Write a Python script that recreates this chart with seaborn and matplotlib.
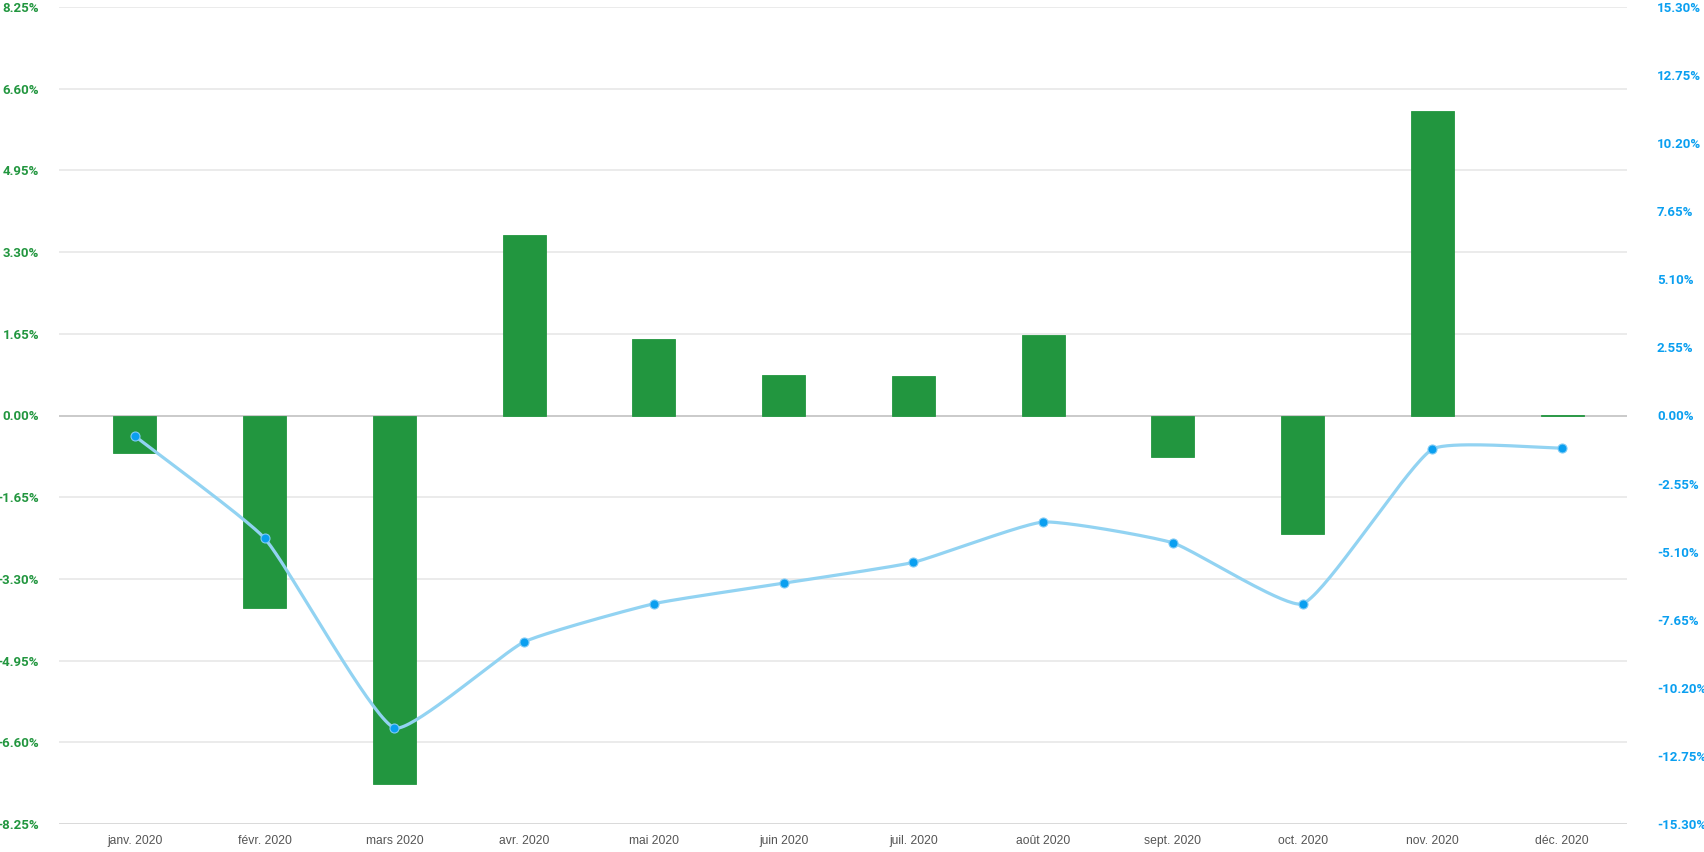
import numpy as np
import pandas as pd
import matplotlib
matplotlib.use("Agg")
import matplotlib.pyplot as plt
import seaborn as sns

months = ['janv. 2020', 'févr. 2020', 'mars 2020', 'avr. 2020', 'mai 2020', 'juin 2020',
          'juil. 2020', 'août 2020', 'sept. 2020', 'oct. 2020', 'nov. 2020', 'déc. 2020']
monthly = [-0.75, -3.89, -7.45, 3.65, 1.54, 0.81, 0.79, 1.63, -0.84, -2.40, 6.15, 0.02]
cumulative = [-0.77, -4.60, -11.70, -8.48, -7.05, -6.28, -5.50, -3.99, -4.77, -7.05, -1.26, -1.22]
left_ticks = [-8.25, -6.60, -4.95, -3.30, -1.65, 0.00, 1.65, 3.30, 4.95, 6.60, 8.25]
right_ticks = [-15.30, -12.75, -10.20, -7.65, -5.10, -2.55, 0.00, 2.55, 5.10, 7.65, 10.20, 12.75, 15.30]

BAR = '#22963f'
LINE = '#92d3f2'
DOT = '#0a9ff0'
GREEN_TXT = '#22963f'
BLUE_TXT = '#0a9ff0'

sns.set_theme(style='white')
plt.rcParams['font.family'] = ['Roboto', 'DejaVu Sans']

df = pd.DataFrame({'month': months, 'monthly': monthly, 'cumulative': cumulative})

fig = plt.figure(figsize=(17.04, 8.52), dpi=100)
ax = fig.add_axes([59/1704, 1-824/852, (1627-59)/1704, (824-7)/852])
ax2 = ax.twinx()

sns.barplot(data=df, x='month', y='monthly', color=BAR, width=0.33, saturation=1,
            edgecolor=BAR, linewidth=0.6, ax=ax, zorder=2)
XL = (-0.5 - 11/129.8, 11.5)
ax.set_ylim(-8.25, 8.25)
ax.set_xlim(*XL)
ax.set_yticks(left_ticks)
ax.set_yticklabels([f'{v:.2f}%' for v in left_ticks])
ax.set_xlabel('')
ax.set_ylabel('')
for v in left_ticks:
    if v == 0:
        c = '#bcbcbc'
    elif v == -8.25:
        c = '#d0d0d0'
    else:
        c = '#e6e6e6'
    ax.axhline(v, color=c, lw=1.1, zorder=1)
for s in ax.spines.values():
    s.set_visible(False)

# Right axis: cumulative line with Chart.js-like spline
ax2.set_ylim(-15.30, 15.30)
ax2.set_yticks(right_ticks)
ax2.set_yticklabels([f'{v:.2f}%' for v in right_ticks])
for s in ax2.spines.values():
    s.set_visible(False)
ax2.grid(False)

xs = np.arange(len(months), dtype=float)
ys = np.array(cumulative, dtype=float)
sx = 129.8
sy = 817 / 30.6
P = np.column_stack([xs * sx, ys * sy])
n = len(P)
t = 0.15
cp_prev = np.zeros_like(P)
cp_next = np.zeros_like(P)
for i in range(n):
    prev = P[i - 1] if i > 0 else P[i]
    nxt = P[i + 1] if i < n - 1 else P[i]
    d01 = np.hypot(*(P[i] - prev))
    d12 = np.hypot(*(nxt - P[i]))
    tot = d01 + d12
    s01 = d01 / tot if tot else 0
    s12 = d12 / tot if tot else 0
    cp_prev[i] = P[i] - t * s01 * (nxt - prev)
    cp_next[i] = P[i] + t * s12 * (nxt - prev)
curve = []
tt = np.linspace(0, 1, 40)[:, None]
for i in range(n - 1):
    p0, p1, p2, p3 = P[i], cp_next[i], cp_prev[i + 1], P[i + 1]
    seg = ((1 - tt) ** 3) * p0 + 3 * ((1 - tt) ** 2) * tt * p1 + 3 * (1 - tt) * tt ** 2 * p2 + tt ** 3 * p3
    curve.append(seg if i == 0 else seg[1:])
curve = np.vstack(curve)
ax2.plot(curve[:, 0] / sx, curve[:, 1] / sy, color=LINE, lw=2.3, solid_capstyle='round', zorder=3)
sns.scatterplot(x=xs, y=ys, ax=ax2, color=DOT, s=42, edgecolor='#7fcaf5', linewidth=0.8, zorder=4)
ax2.set_xlim(*XL)
ax2.set_ylabel('')

ax.set_zorder(1)
ax2.set_zorder(2)
ax2.patch.set_visible(False)

# Tick styling (applied last)
ax.tick_params(axis='y', length=0, pad=14.4, labelsize=9.5, labelcolor=GREEN_TXT)
for lab in ax.get_yticklabels():
    lab.set_fontweight('bold')
ax.tick_params(axis='x', length=0, pad=8, labelsize=8.7, labelcolor='#555555')
for lab in ax.get_xticklabels():
    lab.set_family(['Liberation Sans', 'DejaVu Sans'])
ax2.yaxis.set_tick_params(which='major', length=0, pad=21.6, labelsize=9.5,
                          labelcolor=BLUE_TXT, right=True, labelright=True)
for lab in ax2.get_yticklabels():
    lab.set_fontweight('bold')

fig.savefig('out.png', dpi=100)
